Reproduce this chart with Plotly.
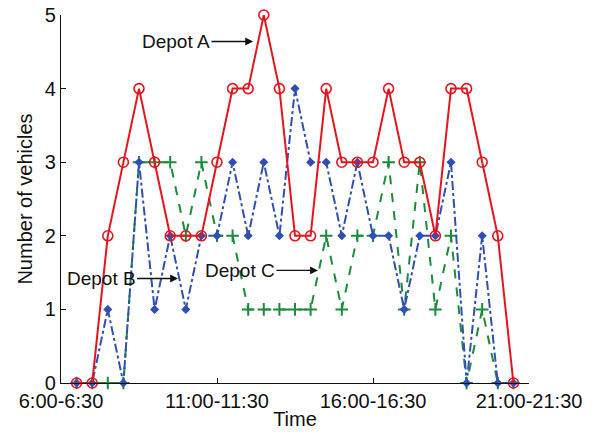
import plotly.graph_objects as go

# Time slots (half-hour), index 0 = 6:00-6:30 ... 30 = 21:00-21:30
tick_index = [0, 10, 20, 30]
tick_labels = ["6:00-6:30", "11:00-11:30", "16:00-16:30", "21:00-21:30"]

slots = list(range(1, 30))

depot_a = [0, 0, 2, 3, 4, 3, 2, 2, 2, 3, 4, 4, 5, 4, 2, 2, 4, 3, 3, 3, 4, 3, 3, 2, 4, 4, 3, 2, 0]
depot_b = [0, 0, 1, 0, 3, 1, 2, 1, 2, 2, 3, 2, 3, 2, 4, 3, 3, 2, 3, 2, 2, 1, 2, 2, 3, 0, 2, 0, 0]
depot_c = [0, 0, 0, 0, 3, 3, 3, 2, 3, 2, 2, 1, 1, 1, 1, 1, 2, 1, 2, 2, 3, 1, 3, 1, 2, 0, 1, 0, 0]

RED = "#e8141c"
BLUE = "#2f4fb5"
GREEN = "#1b8c3c"
FONT = "Liberation Sans, Arial, sans-serif"

fig = go.Figure()
fig.add_trace(go.Scatter(
    x=slots, y=depot_c, mode="lines+markers", name="Depot C", cliponaxis=False,
    line=dict(color=GREEN, width=2, dash="dash"),
    marker=dict(symbol="cross-thin", size=9, color=GREEN, line=dict(color=GREEN, width=2)),
))
fig.add_trace(go.Scatter(
    x=slots, y=depot_b, mode="lines+markers", name="Depot B", cliponaxis=False,
    line=dict(color=BLUE, width=2, dash="dashdot"),
    marker=dict(symbol="diamond", size=7, color=BLUE),
))
fig.add_trace(go.Scatter(
    x=slots, y=depot_a, mode="lines+markers", name="Depot A", cliponaxis=False,
    line=dict(color=RED, width=2),
    marker=dict(symbol="circle-open", size=10, color=RED, line=dict(color=RED, width=1.6)),
))

def arrow_note(text, x, y, ax):
    fig.add_annotation(
        x=x, y=y, xref="x", yref="y", text=text, showarrow=True,
        ax=ax, ay=0, arrowhead=2, arrowsize=1.2, arrowwidth=1.3, arrowcolor="#111",
        font=dict(family=FONT, size=19, color="#111"),
    )

arrow_note("Depot A", 12.31, 4.64, -77)
arrow_note("Depot B", 7.5, 1.42, -77)
arrow_note("Depot C", 16.47, 1.53, -78)

fig.update_layout(
    width=598, height=433,
    margin=dict(l=61, r=69, t=15, b=50),
    paper_bgcolor="white", plot_bgcolor="white",
    showlegend=False,
    font=dict(family=FONT, size=20, color="#111"),
    xaxis=dict(
        range=[0, 30], tickmode="array", tickvals=tick_index, ticktext=tick_labels,
        showgrid=False, zeroline=False, showline=True, linecolor="#111", linewidth=1.3,
        ticks="inside", ticklen=5, tickcolor="#111", automargin=False,
        ticklabeloverflow="allow",
        title=dict(text="Time", standoff=0, font=dict(size=20)),
        tickfont=dict(size=20),
    ),
    yaxis=dict(
        range=[0, 5], tickmode="array", tickvals=[0, 1, 2, 3, 4, 5],
        showgrid=False, zeroline=False, showline=True, linecolor="#111", linewidth=1.3,
        ticks="inside", ticklen=5, tickcolor="#111", automargin=False,
        ticklabeloverflow="allow",
        title=dict(text="Number of vehicles", standoff=6, font=dict(size=20)),
        tickfont=dict(size=20),
    ),
)

fig.write_html("out.html", config={"displayModeBar": False},
               post_script="document.body.style.margin='0';")
